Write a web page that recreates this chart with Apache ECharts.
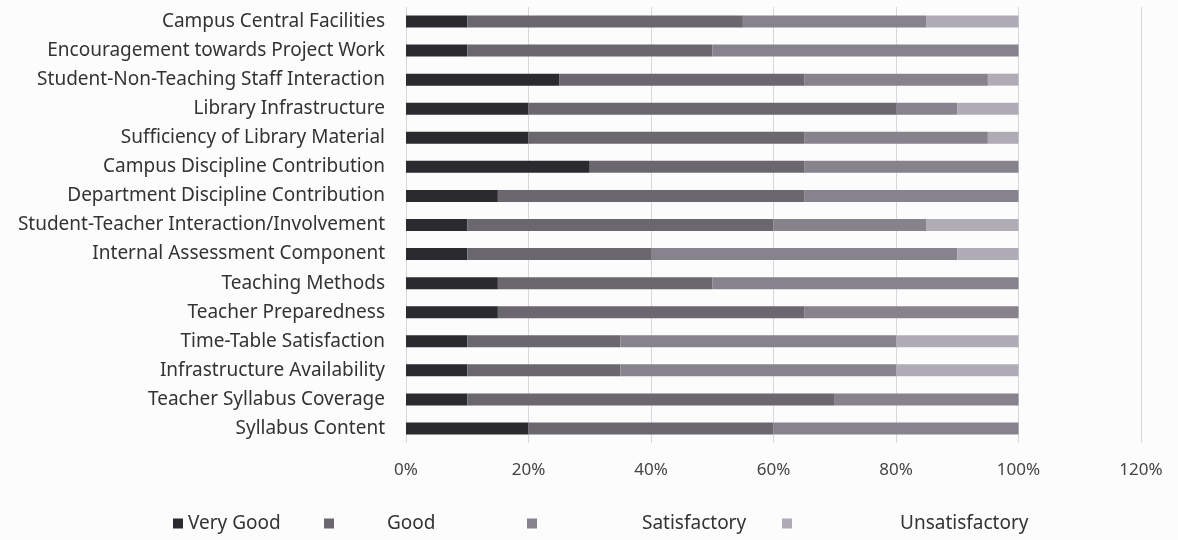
<!DOCTYPE html>
<html>
<head>
<meta charset="utf-8">
<script src="https://cdn.jsdelivr.net/npm/echarts@6/dist/echarts.min.js"></script>
<style>
  html, body { margin: 0; padding: 0; background: #fdfcfd; }
  #feedback_chart { width: 1178px; height: 540px; }
</style>
</head>
<body>
<div id="feedback_chart"></div>
<script>
// categories top to bottom, as in the picture
const category_ls = [
  'Campus Central Facilities',
  'Encouragement towards Project Work',
  'Student-Non-Teaching Staff Interaction',
  'Library Infrastructure',
  'Sufficiency of Library Material',
  'Campus Discipline Contribution',
  'Department Discipline Contribution',
  'Student-Teacher Interaction/Involvement',
  'Internal Assessment Component',
  'Teaching Methods',
  'Teacher Preparedness',
  'Time-Table Satisfaction',
  'Infrastructure Availability',
  'Teacher Syllabus Coverage',
  'Syllabus Content'
];

// share of answers, %
const very_good_ls      = [10, 10, 25, 20, 20, 30, 15, 10, 10, 15, 15, 10, 10, 10, 20];
const good_ls           = [45, 40, 40, 60, 45, 35, 50, 50, 30, 35, 50, 25, 25, 60, 40];
const satisfactory_ls   = [30, 50, 30, 10, 30, 35, 35, 25, 50, 50, 35, 45, 45, 30, 40];
const unsatisfactory_ls = [15,  0,  5, 10,  5,  0,  0, 15, 10,  0,  0, 20, 20,  0,  0];

const tick_ls = [0, 20, 40, 60, 80, 100, 120];

const legend_ls = ['Very Good', 'Good', 'Satisfactory', 'Unsatisfactory'];
const color_ls = ['#2b2a2e', '#6a676f', '#87838c', '#b0acb5'];
const value_ls = [very_good_ls, good_ls, satisfactory_ls, unsatisfactory_ls];

const font = 'Noto Sans';

var chartDom = document.getElementById('feedback_chart');
var myChart = echarts.init(chartDom);
var option;

// Excel-like legend: one legend block per item, text pushed away from the marker
const legend_pos = [{left: 168, pad: 0}, {left: 319, pad: 48}, {left: 522, pad: 100}, {left: 777, pad: 103}];
const legends = legend_ls.map((name, i) => ({
  data: [name],
  left: legend_pos[i].left,
  top: 509,
  itemWidth: 10, itemHeight: 10, itemGap: 0,
  icon: 'rect',
  textStyle: {fontFamily: font, fontSize: 19, color: '#333', padding: [0, 0, 0, legend_pos[i].pad]}
}));

option = {
  animation: false,
  backgroundColor: '#fdfcfd',
  legend: legends,
  grid: {left: 406, right: 37, top: 7, bottom: 97},
  xAxis: {
    type: 'value', min: 0, max: 120, interval: 20,
    axisLine: {show: false}, axisTick: {show: false},
    splitLine: {show: true, lineStyle: {color: '#d9d7dc', width: 1}},
    axisLabel: {
      margin: 19, fontFamily: font, fontSize: 17, color: '#444',
      formatter: (v) => tick_ls.indexOf(v) >= 0 ? v + '%' : ''
    }
  },
  yAxis: {
    type: 'category', inverse: true, data: category_ls,
    axisLine: {show: false}, axisTick: {show: false},
    axisLabel: {margin: 21, fontFamily: font, fontSize: 19, color: '#333'}
  },
  series: legend_ls.map((name, i) => ({
    name: name, type: 'bar', stack: 'all', data: value_ls[i],
    barWidth: 12, itemStyle: {color: color_ls[i]}
  }))
};

option && myChart.setOption(option);
</script>
</body>
</html>
